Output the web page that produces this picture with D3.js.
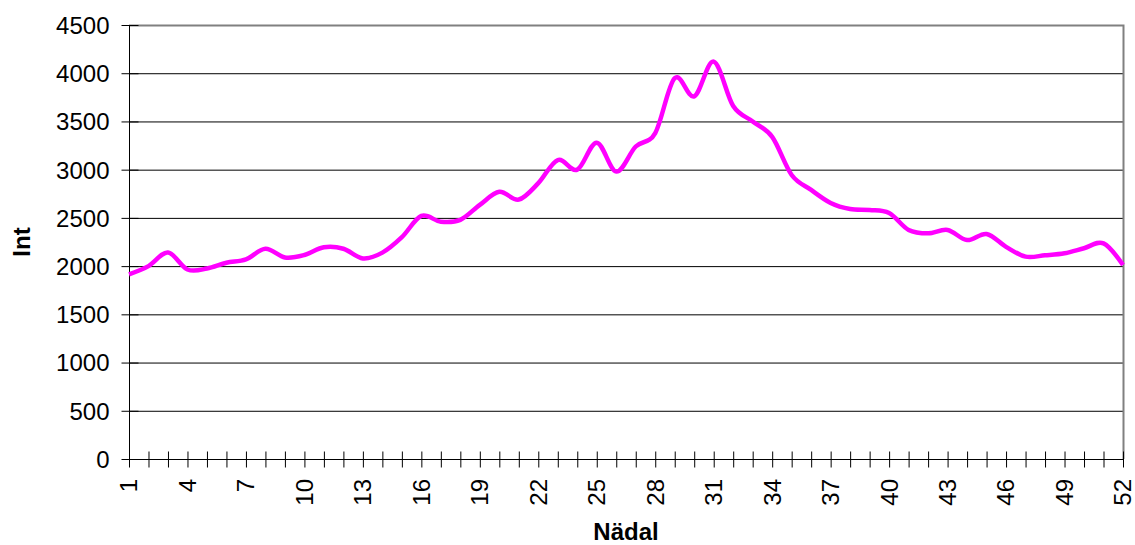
<!DOCTYPE html>
<html>
<head>
<meta charset="utf-8">
<script src="https://cdn.jsdelivr.net/npm/d3@7"></script>
<style>
  body { margin: 0; background: #fff; }
  text { font-family: "Liberation Sans", Arial, sans-serif; fill: #000; }
</style>
</head>
<body>
<svg id="canvas"></svg>
<script>
// Weeks and values
var weeks = d3.range(1, 53);
var values = [
  1915, 2000, 2140, 1965, 1975, 2035, 2070, 2180, 2090, 2115,
  2195, 2180, 2080, 2140, 2300, 2520, 2460, 2480, 2635, 2770,
  2690, 2860, 3100, 3000, 3280, 2980, 3240, 3380, 3950, 3760,
  4120, 3660, 3500, 3340, 2945, 2790, 2655, 2592, 2582, 2550,
  2375, 2340, 2375, 2270, 2333, 2200, 2098, 2112, 2133, 2185,
  2236, 2011
];
var yTicks = [0, 500, 1000, 1500, 2000, 2500, 3000, 3500, 4000, 4500];
var xLabelWeeks = weeks.filter(function(w) { return (w - 1) % 3 === 0; });

// Canvas size
var canvasWidth = 1135;
var canvasHeight = 545;

var margin = {
  top: 25,
  right: 12,
  bottom: 86,
  left: 129
};

var fontSize = '24px';

var svg = d3.select('#canvas')
  .attr('width', canvasWidth)
  .attr('height', canvasHeight);

// Scales
var xScale = d3.scaleLinear()
  .domain([1, 52])
  .range([margin.left, canvasWidth - margin.right]);

var yScale = d3.scaleLinear()
  .domain([0, 4500])
  .range([canvasHeight - margin.bottom, margin.top]);

// Gridlines
svg.append('g')
  .attr('class', 'grid')
  .selectAll('line')
  .data(yTicks.slice(1, -1))
  .enter()
  .append('line')
  .attr('x1', xScale(1))
  .attr('x2', xScale(52))
  .attr('y1', function(d) { return yScale(d) + 0.5; })
  .attr('y2', function(d) { return yScale(d) + 0.5; })
  .attr('stroke', '#000')
  .attr('stroke-width', 1);

// Plot frame, top and right
svg.append('path')
  .attr('d', 'M' + xScale(1) + ',' + (yScale(4500) + 0.5) +
    'H' + (xScale(52) + 0.5) + 'V' + yScale(0))
  .attr('fill', 'none')
  .attr('stroke', '#808080')
  .attr('stroke-width', 2);

// Y axis
var yAxis = d3.axisLeft(yScale)
  .tickValues(yTicks)
  .tickFormat(d3.format('d'))
  .tickSize(8)
  .tickPadding(12);

var yAxisG = svg.append('g')
  .attr('class', 'y-axis')
  .attr('transform', 'translate(' + (margin.left + 0.5) + ',0)')
  .call(yAxis);

yAxisG.select('.domain').attr('stroke', '#000').attr('d', 'M0,' + yScale(4500) + 'V' + yScale(0));
yAxisG.selectAll('.tick line')
  .attr('stroke', '#000')
  .attr('x1', 9);
yAxisG.selectAll('.tick text')
  .style('font-size', fontSize)
  .style('font-family', '"Liberation Sans", Arial, sans-serif')
  .attr('dy', '0.35em');

// X axis
var xAxis = d3.axisBottom(xScale)
  .tickValues(weeks)
  .tickSize(8)
  .tickFormat('');

var xAxisG = svg.append('g')
  .attr('class', 'x-axis')
  .attr('transform', 'translate(0,' + (yScale(0) + 0.5) + ')')
  .call(xAxis);

xAxisG.select('.domain').attr('stroke', '#000').attr('d', 'M' + xScale(1) + ',0H' + xScale(52));
xAxisG.selectAll('.tick line')
  .attr('stroke', '#000')
  .attr('y1', -8);

svg.append('g')
  .attr('class', 'x-labels')
  .selectAll('text')
  .data(xLabelWeeks)
  .enter()
  .append('text')
  .attr('transform', function(d) {
    return 'translate(' + xScale(d) + ',' + (yScale(0) + 20) + ') rotate(-90)';
  })
  .attr('text-anchor', 'end')
  .attr('dy', '0.35em')
  .style('font-size', fontSize)
  .text(function(d) { return d; });

// Axis titles
svg.append('text')
  .attr('transform', 'translate(30,' + ((yScale(0) + yScale(4500)) / 2) + ') rotate(-90)')
  .attr('text-anchor', 'middle')
  .style('font-size', fontSize)
  .style('font-weight', 'bold')
  .text('Int');

svg.append('text')
  .attr('x', (xScale(1) + xScale(52)) / 2)
  .attr('y', 540)
  .attr('text-anchor', 'middle')
  .style('font-size', fontSize)
  .style('font-weight', 'bold')
  .text('Nädal');

// Data line
var line = d3.line()
  .x(function(d, i) { return xScale(weeks[i]); })
  .y(function(d) { return yScale(d); })
  .curve(d3.curveCardinal.tension(0));

svg.append('path')
  .datum(values)
  .attr('class', 'line')
  .attr('d', line)
  .attr('fill', 'none')
  .attr('stroke', '#ff00ff')
  .attr('stroke-width', 4.5)
  .attr('stroke-linejoin', 'round');
</script>
</body>
</html>
